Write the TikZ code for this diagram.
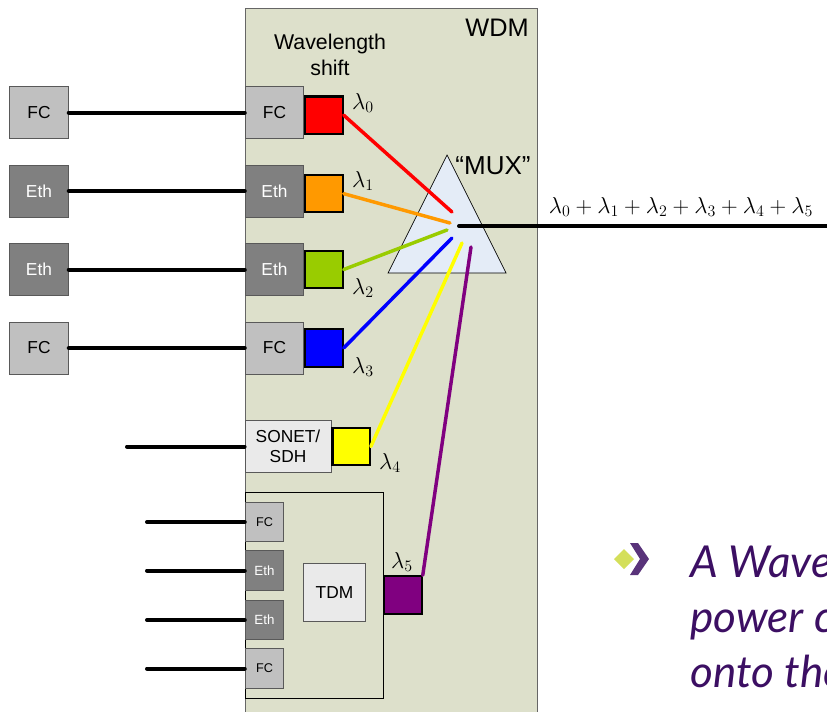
\documentclass[tikz,border=0pt]{standalone}
\usepackage[no-math]{fontspec}
\setmainfont{Liberation Sans}
\newfontfamily\slidefont{Lato}
\usepackage{tikz}
\usetikzlibrary{positioning}

\definecolor{wdmbg}{HTML}{DDE0CB}
\definecolor{fcgray}{HTML}{C0C0C0}
\definecolor{ethgray}{HTML}{808080}
\definecolor{lightbox}{HTML}{EAEAEA}
\definecolor{muxfill}{HTML}{E4ECF7}
\definecolor{lam0}{HTML}{FF0000}
\definecolor{lam1}{HTML}{FF9900}
\definecolor{lam2}{HTML}{99CC00}
\definecolor{lam3}{HTML}{0000FF}
\definecolor{lam4}{HTML}{FFFF00}
\definecolor{lam5}{HTML}{800080}
\definecolor{slidepurple}{HTML}{3C0F63}
\definecolor{bulletgreen}{HTML}{D4DF5A}

\begin{document}
\begin{tikzpicture}[x=0.75pt,y=-0.75pt,
    box/.style={draw=black!65,line width=0.6pt,inner sep=0pt,font=\fontsize{13}{15}\selectfont},
    fcbox/.style={box,fill=fcgray,minimum width=44pt,minimum height=39pt},
    ethbox/.style={box,fill=ethgray,text=white,minimum width=44pt,minimum height=39pt},
    sfc/.style={fcbox,minimum width=29pt,minimum height=29.5pt,font=\fontsize{9.5}{11}\selectfont},
    seth/.style={ethbox,minimum width=29pt,minimum height=29.5pt,font=\fontsize{10}{11}\selectfont},
    wl/.style={draw=black,line width=1.6pt,minimum size=28pt,inner sep=0pt},
    fiber/.style={line width=3pt,line cap=round},
    ray/.style={line width=2.6pt,line cap=round},
    lam/.style={inner sep=0pt,font=\fontsize{17}{19}\selectfont}]
    \useasboundingbox (0,0) rectangle (827,711);
    \clip (0,0) rectangle (827,711);

    \fill[wdmbg] (245,8) rectangle (537,720);
    \draw[black!60,line width=0.7pt] (245,720) |- (537,8) -- (537,720);
    \node[font=\fontsize{19}{21}\selectfont] (wdm) at (497,28) {WDM};
    \node[align=center,font=\fontsize{16}{19.5}\selectfont] (shift) at (330,55) {Wavelength\\shift};

    \draw[line width=0.5pt,fill=muxfill] (447,155) -- (506,273) -- (388,273) -- cycle;
    \node[font=\fontsize{19.5}{21}\selectfont] (muxlab) at (493,166) {“MUX”};

    \node[fcbox]  (src0) at (39,112.5) {FC};
    \node[ethbox] (src1) at (39,191)   {Eth};
    \node[ethbox] (src2) at (39,269.5) {Eth};
    \node[fcbox]  (src3) at (39,348)   {FC};

    \node[fcbox]  (if0) at (274.5,112.5) {FC};
    \node[ethbox] (if1) at (274.5,191)   {Eth};
    \node[ethbox] (if2) at (274.5,269.5) {Eth};
    \node[fcbox]  (if3) at (274.5,348)   {FC};

    \node[box,fill=lightbox,minimum width=64.5pt,minimum height=39pt,align=center,
          font=\fontsize{13}{15}\selectfont] (sonet) at (288,446.5) {SONET/\\SDH};

    \draw[black,line width=0.6pt] (245,492) rectangle (383,698);
    \node[sfc]  (t1) at (264.5,522) {FC};
    \node[seth] (t2) at (264.5,570.5) {Eth};
    \node[seth] (t3) at (264.5,620) {Eth};
    \node[sfc]  (t4) at (264.5,668.5) {FC};
    \node[box,fill=lightbox,minimum width=47pt,minimum height=44pt] (tdm) at (334.5,592.5) {TDM};

    \coordinate (m0) at (452,212);
    \coordinate (m1) at (450,223);
    \coordinate (m2) at (447,230);
    \coordinate (m3) at (452,238);
    \coordinate (m4) at (462,243);
    \coordinate (m5) at (471,247);
    \coordinate (mux) at (459,226);
    \coordinate (out) at (830,226);

    \node[wl,fill=lam0,right=0pt of if0,yshift=-2pt] (sq0) {};
    \node[wl,fill=lam1,right=0pt of if1,yshift=-2pt] (sq1) {};
    \node[wl,fill=lam2,right=0pt of if2] (sq2) {};
    \node[wl,fill=lam3,right=0pt of if3] (sq3) {};
    \node[wl,fill=lam4,right=0pt of sonet] (sq4) {};
    \node[wl,fill=lam5] (sq5) at (403,595) {};

    \draw[ray,lam0] (sq0.east) -- (m0);
    \draw[ray,lam1] (sq1.east) -- (m1);
    \draw[ray,lam2] (sq2.east) -- (m2);
    \draw[ray,lam3] (sq3.east) -- (m3);
    \draw[ray,lam4] (sq4.east) -- (m4);
    \draw[ray,lam5] (sq5.north east) -- (m5);

    \node[lam] at (363,103) {$\lambda_0$};
    \node[lam] at (363,181) {$\lambda_1$};
    \node[lam] at (363,288) {$\lambda_2$};
    \node[lam] at (363,367) {$\lambda_3$};
    \node[lam] at (390,463) {$\lambda_4$};
    \node[lam] at (402,562) {$\lambda_5$};

    \draw[fiber] (src0) -- (if0);
    \draw[fiber] (src1) -- (if1);
    \draw[fiber] (src2) -- (if2);
    \draw[fiber] (src3) -- (if3);

    \coordinate (in4) at (127,446.5);
    \coordinate (in5) at (147,522);
    \coordinate (in6) at (147,570.5);
    \coordinate (in7) at (147,620);
    \coordinate (in8) at (147,668.5);
    \draw[fiber] (in4) -- (sonet);
    \draw[fiber] (in5) -- (t1);
    \draw[fiber] (in6) -- (t2);
    \draw[fiber] (in7) -- (t3);
    \draw[fiber] (in8) -- (t4);

    \draw[fiber] (mux) -- (out);
    \node[lam,font=\fontsize{17}{19}\selectfont] (sum) at (681,207)
        {$\lambda_0+\lambda_1+\lambda_2+\lambda_3+\lambda_4+\lambda_5$};

    \fill[bulletgreen] (624,549) -- (634,559) -- (624,569) -- (614,559) -- cycle;
    \fill[slidepurple!85] (630,543) -- (638,543) -- (649,559) -- (638,575) -- (630,575) -- (640,559) -- cycle;
    \begin{scope}[every node/.style={anchor=base west,inner sep=0pt,text=slidepurple,
          font=\slidefont\itshape\fontsize{33}{40}\selectfont}]
        \node (txt1) at (690,577) {A Wavelength};
        \node (txt2) at (690,632) {power combiner};
        \node (txt3) at (690,687) {onto the};
    \end{scope}
\end{tikzpicture}
\end{document}
